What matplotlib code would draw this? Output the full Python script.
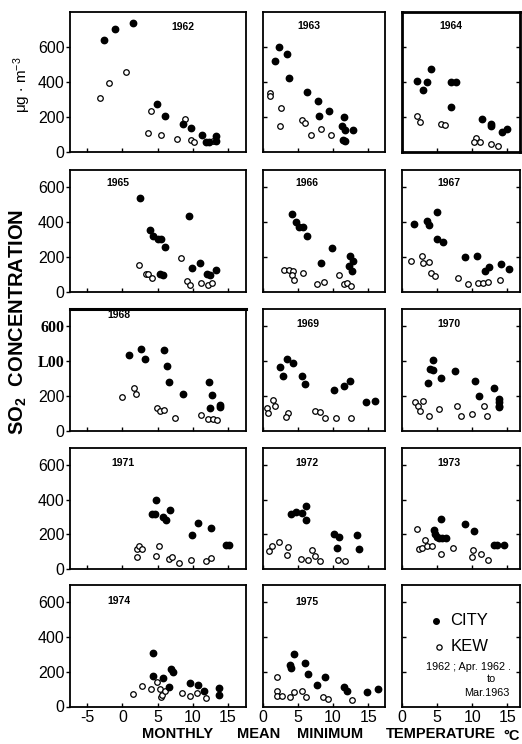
import matplotlib
matplotlib.use("Agg")
import matplotlib.pyplot as plt

plt.rcParams['font.family'] = ['Liberation Sans', 'DejaVu Sans']
plt.rcParams['mathtext.default'] = 'regular'

# monthly mean minimum temperature (deg C), SO2 concentration (ug m-3)
city_1962 = [(-2.6, 640), (-1.1, 700), (1.5, 740), (4.85, 275), (6.1, 208), (8.6, 160),
             (9.8, 137), (11.3, 95), (11.8, 55), (12.3, 55), (13.3, 90), (13.3, 62)]
kew_1962 = [(-3.25, 308), (-1.9, 395), (0.5, 455), (3.6, 110), (4.0, 235), (5.5, 100),
            (7.8, 75), (8.9, 190), (9.8, 68), (10.2, 58), (12.8, 62)]
city_1963 = [(1.8, 522), (2.3, 598), (3.4, 562), (3.7, 425), (6.35, 345), (7.8, 293),
             (7.95, 206), (9.4, 234), (11.5, 198), (11.3, 147), (11.7, 128), (12.9, 124),
             (11.4, 70), (11.7, 63)]
kew_1963 = [(1.1, 337), (1.1, 318), (2.65, 251), (2.5, 147), (5.55, 181), (6.0, 166),
            (6.9, 97), (8.25, 131), (9.7, 95)]
city_1964 = [(2.1, 404), (2.95, 356), (3.6, 398), (4.15, 474), (6.95, 398), (7.7, 400),
             (6.95, 259), (11.35, 190), (12.6, 162), (12.7, 150), (14.2, 114), (15.0, 130)]
kew_1964 = [(2.2, 204), (2.5, 170), (5.5, 162), (6.1, 156), (10.5, 80), (10.3, 55),
            (11.1, 55), (12.7, 46), (13.6, 36)]
city_1965 = [(2.45, 541), (3.95, 358), (4.3, 325), (5.0, 308), (5.5, 304), (6.1, 262),
             (5.4, 108), (5.8, 100), (9.5, 438), (9.85, 142), (11.05, 168), (12.0, 108),
             (12.45, 100), (13.3, 128)]
kew_1965 = [(2.35, 158), (3.3, 104), (3.7, 108), (4.25, 85), (8.3, 196), (9.2, 66),
            (9.55, 42), (11.2, 55), (12.15, 43), (12.7, 55)]
city_1966 = [(4.1, 449), (4.75, 402), (5.1, 372), (5.8, 376), (6.25, 325), (9.8, 256),
             (8.25, 170), (12.45, 206), (12.8, 181), (12.3, 150), (12.7, 123)]
kew_1966 = [(3.1, 131), (3.7, 131), (4.25, 121), (4.1, 99), (4.5, 69), (5.7, 112),
            (7.7, 50), (8.7, 58), (10.9, 99), (11.6, 47), (12.0, 54), (12.5, 35)]
city_1967 = [(1.65, 394), (3.55, 409), (3.9, 383), (5.0, 460), (5.05, 308), (5.9, 290),
             (9.0, 200), (10.65, 207), (11.85, 123), (12.45, 148), (14.15, 164), (15.2, 133)]
kew_1967 = [(1.25, 178), (2.9, 207), (3.0, 168), (3.8, 174), (4.1, 110), (4.7, 92),
            (8.0, 82), (9.4, 47), (10.85, 54), (11.55, 54), (12.3, 58), (14.0, 69)]
city_1968 = [(0.9, 438), (2.7, 469), (3.2, 412), (5.85, 463), (6.35, 371), (6.6, 283),
             (8.6, 210), (12.3, 281), (12.65, 206), (12.4, 133), (13.8, 148), (13.8, 137)]
kew_1968 = [(0.0, 196), (1.6, 244), (1.95, 212), (4.9, 133), (5.4, 113), (5.85, 121),
            (7.5, 77), (11.2, 94), (12.1, 67), (12.8, 69), (13.5, 62)]
city_1969 = [(2.5, 369), (2.95, 313), (3.5, 415), (4.25, 388), (5.65, 317), (6.0, 271),
             (10.2, 238), (11.5, 258), (12.4, 285), (14.7, 165), (16.0, 171)]
kew_1969 = [(0.55, 131), (0.75, 102), (1.5, 179), (1.8, 144), (3.55, 102), (3.3, 79),
            (7.5, 112), (8.15, 110), (8.85, 75), (10.4, 73), (12.5, 75)]
city_1970 = [(3.65, 277), (4.35, 408), (4.0, 358), (4.4, 350), (5.5, 306), (7.6, 344),
             (10.4, 287), (11.0, 202), (13.1, 248), (13.85, 185), (13.85, 165),
             (13.85, 146), (13.85, 135)]
kew_1970 = [(1.8, 165), (2.3, 144), (2.55, 117), (3.05, 175), (3.8, 87), (5.25, 127),
            (7.9, 144), (8.4, 87), (9.95, 98), (11.65, 144), (12.15, 87)]
city_1971 = [(4.2, 321), (4.6, 317), (4.8, 398), (5.75, 302), (6.25, 283), (6.8, 342),
             (9.95, 196), (10.75, 269), (12.6, 235), (14.65, 140), (15.2, 140)]
kew_1971 = [(2.05, 115), (2.3, 131), (2.75, 113), (2.05, 67), (4.7, 75), (5.15, 135),
            (6.6, 58), (7.1, 71), (8.0, 35), (9.7, 52), (11.9, 48), (12.55, 65)]
city_1972 = [(4.0, 317), (4.75, 331), (5.55, 323), (6.1, 362), (6.1, 282), (10.2, 201),
             (10.9, 186), (10.5, 124), (13.45, 199), (13.7, 116)]
kew_1972 = [(0.95, 104), (1.3, 132), (2.35, 159), (3.55, 130), (3.4, 79), (5.4, 56),
            (6.4, 54), (7.0, 108), (7.5, 75), (8.15, 44), (10.75, 54), (11.7, 48)]
city_1973 = [(4.5, 226), (4.7, 205), (5.0, 186), (5.3, 178), (5.6, 290), (5.75, 178),
             (6.25, 182), (9.0, 261), (10.25, 219), (13.1, 137), (13.5, 137), (14.5, 137)]
kew_1973 = [(2.1, 232), (2.35, 116), (2.8, 124), (3.3, 168), (3.5, 133), (4.2, 133),
            (5.55, 89), (7.3, 120), (10.15, 112), (9.9, 72), (11.3, 85), (12.25, 50)]
city_1974 = [(4.35, 311), (4.35, 178), (5.7, 166), (6.9, 217), (7.25, 201), (6.65, 114),
             (9.55, 137), (10.75, 126), (11.6, 89), (13.65, 108), (13.65, 66)]
kew_1974 = [(1.55, 70), (2.75, 118), (4.05, 103), (4.9, 143), (5.3, 103), (5.5, 52),
            (5.6, 64), (6.1, 91), (8.5, 79), (9.6, 58), (10.65, 75), (11.9, 48)]
city_1975 = [(4.5, 302), (3.95, 237), (4.0, 223), (6.05, 248), (6.5, 190), (7.7, 121),
             (8.9, 169), (11.6, 112), (12.0, 92), (14.9, 81), (16.45, 102)]
kew_1975 = [(2.0, 169), (2.05, 87), (2.0, 62), (2.75, 63), (3.9, 54), (4.5, 83),
            (5.65, 90), (6.2, 52), (8.6, 54), (9.35, 44), (12.65, 35)]

years = ['1962', '1963', '1964', '1965', '1966', '1967', '1968', '1969', '1970',
         '1971', '1972', '1973', '1974', '1975']
city = [city_1962, city_1963, city_1964, city_1965, city_1966, city_1967, city_1968,
        city_1969, city_1970, city_1971, city_1972, city_1973, city_1974, city_1975]
kew = [kew_1962, kew_1963, kew_1964, kew_1965, kew_1966, kew_1967, kew_1968,
       kew_1969, kew_1970, kew_1971, kew_1972, kew_1973, kew_1974, kew_1975]

# year label spot inside each panel (axes fraction)
year_pos = [(0.64, 0.89), (0.38, 0.90), (0.41, 0.90),
            (0.27, 0.89), (0.365, 0.89), (0.40, 0.89),
            (0.28, 0.95), (0.37, 0.88), (0.40, 0.88),
            (0.30, 0.875), (0.36, 0.875), (0.40, 0.875),
            (0.28, 0.87), (0.365, 0.86)]

W, H = 522, 744
col_px = [(70, 246), (262.7, 385), (402, 520)]
col_xlim = [(-7.45, 17.55), (0, 17.4), (0, 16.8)]
row_px = [(12, 152), (170, 292.5), (309, 431), (448, 569), (585, 706.5)]
row_ymax = [800, 700, 700, 700, 700]

fig = plt.figure(figsize=(W / 100, H / 100), dpi=100)


def add_panel(r, c):
    x0, x1 = col_px[c]
    y0, y1 = row_px[r]
    ax = fig.add_axes([x0 / W, 1 - y1 / H, (x1 - x0) / W, (y1 - y0) / H])
    ax.set_xlim(col_xlim[c])
    ax.set_ylim(0, row_ymax[r])
    for s in ax.spines.values():
        s.set_linewidth(1.3)
    if c == 0:
        ax.set_xticks([-5, 0, 5, 10, 15])
        xl = ['-5', '0', '5', '10', '15']
        ax.set_yticks([0, 200, 400, 600])
        if r == 2:
            ax.set_yticklabels(['0', '200', 'L00', '600'])
            for t in ax.get_yticklabels()[2:]:
                t.set_family('Liberation Serif')
                t.set_weight('bold')
        else:
            ax.set_yticklabels(['0', '200', '400', '600'])
        ax.tick_params(axis='y', direction='out', length=3, width=1, pad=1,
                       labelsize=11.5)
    else:
        ax.set_xticks([0, 5, 10, 15])
        xl = ['0', '5', '10', '15']
        ax.set_yticks([200, 400, 600])
        ax.tick_params(axis='y', direction='in', length=3, width=1, labelleft=False,
                       right=(c == 2))
    if r == 4:
        ax.set_xticklabels(xl)
        ax.tick_params(axis='x', direction='in', length=3, width=1, pad=2.5,
                       labelsize=11.5)
    else:
        ax.tick_params(axis='x', direction='in', length=3, width=1, labelbottom=False)
    return ax


cells = [(r, c) for r in range(5) for c in range(3)]
for i, (r, c) in enumerate(cells[:14]):
    ax = add_panel(r, c)
    if years[i] == '1964':
        for s in ax.spines.values():
            s.set_linewidth(2.0)
    if years[i] == '1968':
        ax.spines['top'].set_linewidth(2.2)
    cx, cy = zip(*city[i])
    kx, ky = zip(*kew[i])
    ax.plot(kx, ky, 'o', mfc='white', mec='black', mew=0.9, ms=4.0, ls='none', clip_on=False)
    ax.plot(cx, cy, 'o', color='black', ms=4.6, ls='none', clip_on=False)
    ax.text(year_pos[i][0], year_pos[i][1], years[i], transform=ax.transAxes,
            ha='center', va='center', fontsize=7.5, fontweight='bold')

# key panel
ax = add_panel(4, 2)
ax.plot([0.286], [0.706], 'o', color='black', ms=4.0, transform=ax.transAxes)
ax.text(0.41, 0.706, 'CITY', transform=ax.transAxes, ha='left', va='center', fontsize=12)
ax.plot([0.31], [0.49], 'o', mfc='white', mec='black', mew=0.9, ms=3.8,
        transform=ax.transAxes)
ax.text(0.415, 0.49, 'KEW', transform=ax.transAxes, ha='left', va='center', fontsize=12)
ax.text(0.56, 0.325, '1962 ; Apr. 1962 .', transform=ax.transAxes, ha='center',
        va='center', fontsize=7.8)
ax.text(0.76, 0.225, 'to', transform=ax.transAxes, ha='center', va='center', fontsize=7.8)
ax.text(0.72, 0.11, 'Mar.1963', transform=ax.transAxes, ha='center', va='center',
        fontsize=7.8)

# axis titles
fig.text(18 / W, 1 - 322 / H, r'SO$_2$  CONCENTRATION', rotation=90, ha='center',
         va='center', fontsize=14.5, fontweight='bold')
fig.text(22 / W, 1 - 85 / H, r'$\mu$g $\cdot$ m$^{-3}$', rotation=90, ha='center',
         va='center', fontsize=11)
for word, xc in [('MONTHLY', 178), ('MEAN', 259), ('MINIMUM', 330), ('TEMPERATURE', 441)]:
    fig.text(xc / W, 1 - 734 / H, word, ha='center', va='center', fontsize=10.5,
             fontweight='bold')
fig.text(512 / W, 1 - 736 / H, '°C', ha='center', va='center', fontsize=10.5,
         fontweight='bold')

fig.savefig('out.png', dpi=100)
